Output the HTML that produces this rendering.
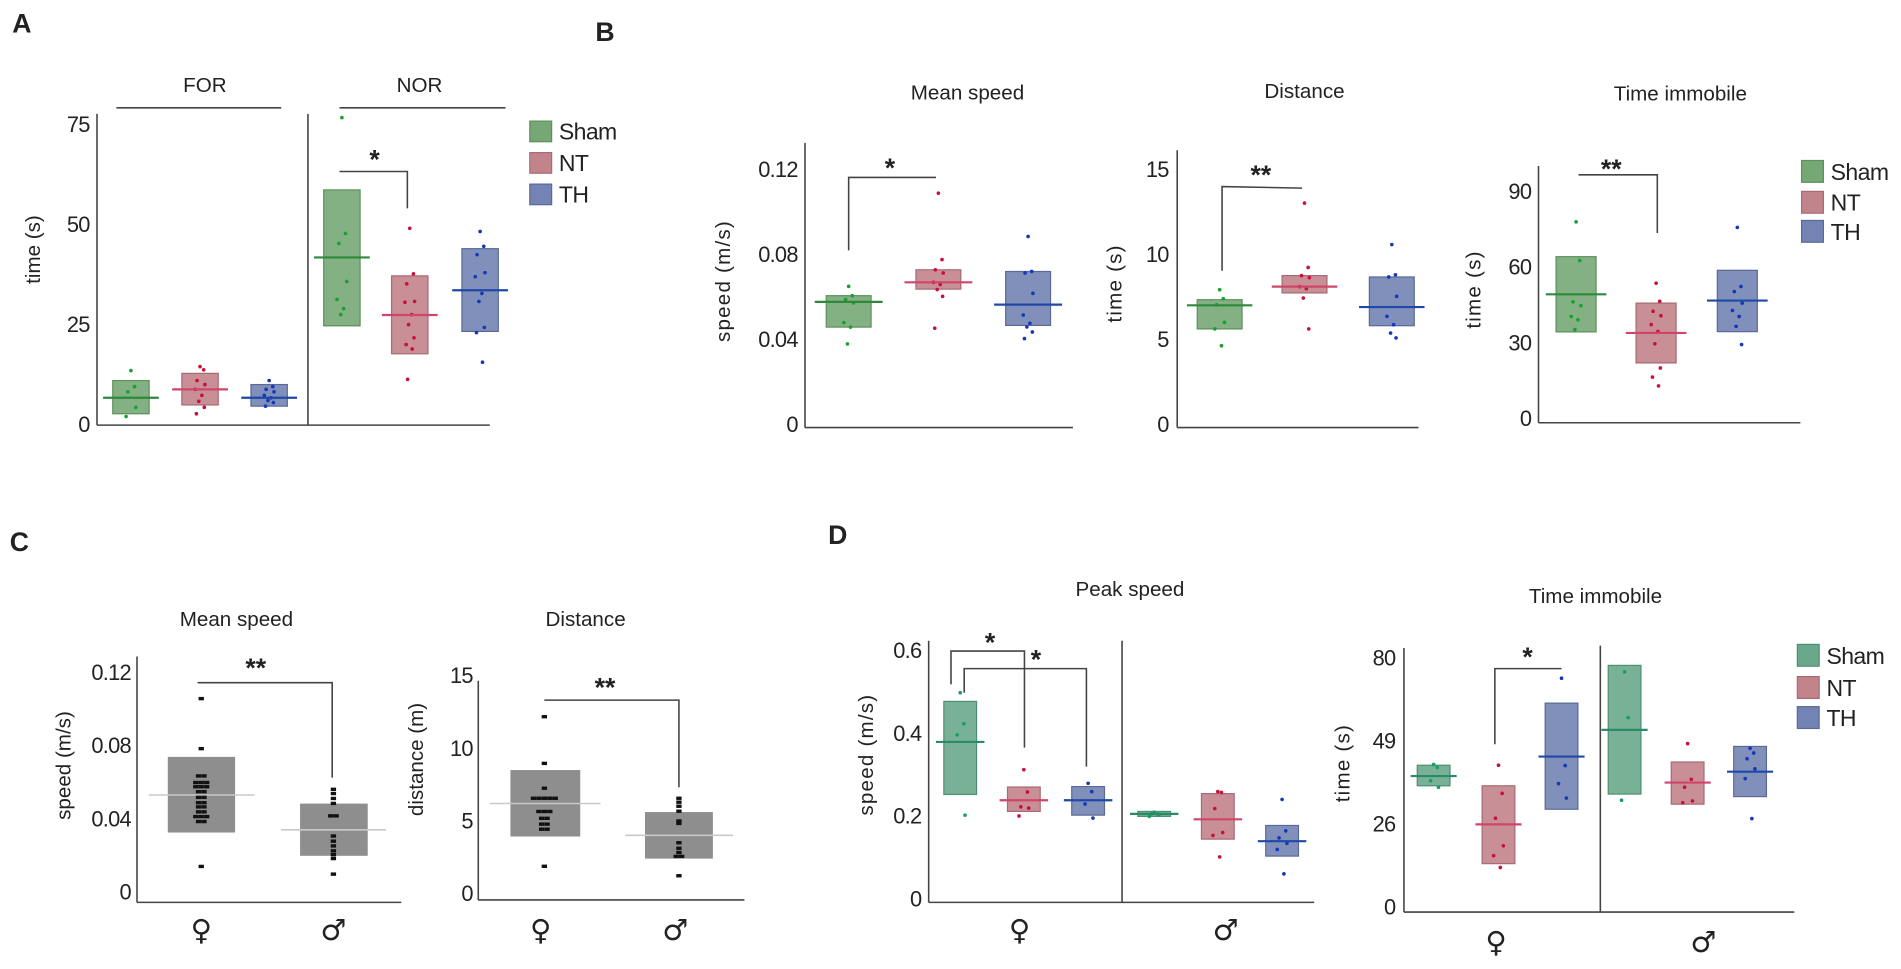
<!DOCTYPE html>
<html><head><meta charset="utf-8"><title>Behavioral measures figure</title>
<style>
html,body{margin:0;padding:0;background:#fff;}
svg{display:block;font-family:"Liberation Sans",Arial,sans-serif;}
</style></head>
<body>
<svg id="fig" width="1901" height="969" viewBox="0 0 1568 800" preserveAspectRatio="none"></svg>
<script>
// ---------- DATA ----------
// Panel A
const A_groups=["Sham","NT","TH"];
const A_FOR_lo=[2.7,4.9,4.6];
const A_FOR_hi=[11,12.8,10];
const A_FOR_mean=[6.7,8.8,6.7];
const A_FOR_pts=[[13.5,9.5,8.2,4.3,2],[14.5,13.7,11,10,8.8,7.3,5.8,4.3,2.7],[11,9.5,8.8,8.2,7.3,6.7,6,5.5,4.6]];
const A_NOR_lo=[24.7,17.7,23.3];
const A_NOR_hi=[58.7,37.2,44];
const A_NOR_mean=[41.8,27.4,33.6];
const A_NOR_pts=[[76.8,47.8,45.3,35.8,31.3,29,27.5],[49.1,37.7,35.2,30.8,30.6,27.5,25,21.7,20,18.9,11.3],[48.3,44.6,42.5,38,37,32.8,30.8,24.3,23,15.6]];
const A_ticks=[0,25,50,75];
// Panel B mean speed
const BS_lo=[0.0459,0.0638,0.0467];
const BS_hi=[0.0607,0.0729,0.0721];
const BS_mean=[0.0578,0.067,0.0565];
const BS_pts=[[0.0651,0.0607,0.0589,0.0573,0.048,0.0459,0.038],[0.109,0.0777,0.0729,0.0714,0.067,0.066,0.0636,0.0604,0.0454],[0.0886,0.0721,0.0714,0.0618,0.0516,0.0477,0.046,0.0436,0.0405]];
const BS_ticks=[0,0.04,0.08,0.12];
// Panel B distance
const BD_lo=[5.63,7.75,5.82];
const BD_hi=[7.35,8.77,8.69];
const BD_mean=[7.02,8.12,6.92];
const BD_pts=[[7.94,7.41,7.05,6.02,5.63,4.64],[13.04,9.25,8.77,8.65,8.12,8.0,7.45,5.63],[10.6,8.82,8.69,7.55,6.37,5.88,5.39,5.1]];
const BD_ticks=[0,5,10,15];
// Panel B time immobile
const BT_lo=[34.4,22.1,34.5];
const BT_hi=[64.2,45.8,58.8];
const BT_mean=[49.3,34,46.8];
const BT_pts=[[78,62.7,46.3,44.8,40.5,39.2,35.3],[53.7,46.5,42.6,40.8,37.3,34.6,29.7,20.1,16.5,13],[75.8,52.4,50.4,45.8,42.9,40.5,36.6,29.4]];
const BT_ticks=[0,30,60,90];
// Panel C
const C_sex=["♀","♂"];
const CS_lo=[0.0327,0.02];
const CS_hi=[0.074,0.0485];
const CS_mean=[0.0532,0.0342];
const CS_pts=[[0.1058,0.0785,0.0636,0.0636,0.06,0.06,0.06,0.0577,0.0577,0.0577,0.055,0.055,0.0519,0.0519,0.049,0.049,0.0467,0.0467,0.044,0.044,0.0414,0.0414,0.0414,0.0387,0.0387,0.0142],[0.0563,0.054,0.0513,0.0486,0.0418,0.0418,0.0308,0.028,0.0254,0.0227,0.0206,0.0185,0.01]];
const CS_ticks=[0,0.04,0.08,0.12];
const CD_lo=[3.95,2.43];
const CD_hi=[8.52,5.63];
const CD_mean=[6.22,4.03];
const CD_pts=[[12.19,8.98,7.27,6.58,6.58,6.58,6.58,6.58,5.67,5.67,5.67,5.2,5.2,4.8,4.8,4.45,4.45,1.9],[6.58,6.31,6.03,5.69,5.02,4.85,3.52,3.14,2.85,2.58,2.58,1.25]];
const CD_ticks=[0,5,10,15];
// Panel D peak speed (female: Sham,NT,TH ; male: Sham,NT,TH)
const DP_lo=[0.253,0.212,0.203,0.2,0.145,0.104];
const DP_hi=[0.478,0.271,0.272,0.212,0.255,0.178];
const DP_mean=[0.38,0.239,0.239,0.206,0.193,0.14];
const DP_pts=[[0.499,0.424,0.397,0.203],[0.313,0.259,0.223,0.22,0.201],[0.28,0.26,0.23,0.196],[0.21,0.206,0.206,0.203,0.2],[0.26,0.258,0.219,0.161,0.154,0.102],[0.241,0.165,0.148,0.135,0.12,0.061]];
const DP_ticks=[0,0.2,0.4,0.6];
// Panel D time immobile
const DT_lo=[36.7,13.7,30.2,34.4,31.6,33.7];
const DT_hi=[42.4,36.7,63.3,77.4,43.3,47.6];
const DT_mean=[39.4,26,44.8,53.3,37.6,40.6];
const DT_pts=[[42.6,41.8,38.1,36.3],[42.4,34.6,27.7,19.3,16.2,12.5],[72.6,42.3,37.3,33.3],[75,57.9,32.7],[48.4,38.5,36.3,32.5,32],[47.1,45.8,44.2,41.4,38.7,27.6]];
const DT_ticks=[0,26,49,80];

// ---------- DRAWING ----------
const NS='http://www.w3.org/2000/svg';
const svg=document.getElementById('fig');
function mk(tag,parent,name){
  const e=document.createElementNS(NS,tag);
  
  
  parent.appendChild(e);
  return e;
}
function set(e,o){for(const k in o)e.setAttribute(k,o[k]);return e;}
function txt(parent,name,x,y,s,size,anchor,extra){
  const t=mk('text',parent,name);
  set(t,{x:x,y:y,'font-size':size,'text-anchor':anchor||'middle',fill:'#222'});
  if(extra)set(t,extra);
  t.textContent=s;return t;
}
function line(parent,name,x1,y1,x2,y2,col,w){
  return set(mk('line',parent,name),{x1:x1,y1:y1,x2:x2,y2:y2,stroke:col||'#444','stroke-width':w||1.3});
}
function linScale(zeroY,pxPerUnit){return v=>zeroY-v*pxPerUnit;}
function pieceScale(vals,y0,step){return v=>{
  for(let i=0;i<vals.length-1;i++){ if(v<=vals[i+1]||i===vals.length-2){
    const f=(v-vals[i])/(vals[i+1]-vals[i]); return y0-(i+f)*step;}}
};}
const PAL={
  fill:['#76a876','#c2848b','#7384b4'],
  stroke:['#5d905d','#a86b73','#5a6a98'],
  mean:['#2c8a3a','#d0456a','#1f48a8'],
  dot:['#18a030','#c8103c','#1438b8']
};
const PALD={
  fill:['#6aa88c','#c2848b','#7384b4'],
  stroke:['#4e9073','#a86b73','#5a6a98'],
  mean:['#2a8a6a','#d0456a','#1f48a8'],
  dot:['#18a060','#c8103c','#1438b8']
};
const JIT=[0,3,-2.5,4,-4,1.5,-1,3.5,-3,2,-1.8];
function group(parent,name,y,cx,bw,mw,lo,hi,mean,pts,ci,pal){
  const g=mk('g',parent,name);
  const r=mk('rect',g,name+'-box');
  set(r,{x:cx-bw/2,y:y(hi),width:bw,height:y(lo)-y(hi),fill:pal.fill[ci],'fill-opacity':0.9,stroke:pal.stroke[ci],'stroke-width':1});
  pts.forEach((v,i)=>{
    const c=mk('circle',g,name+'-point');
    set(c,{cx:cx+JIT[i%JIT.length],cy:y(v),r:1.5,fill:pal.dot[ci]});
  });
  line(g,name+'-mean-line',cx-mw/2,y(mean),cx+mw/2,y(mean),pal.mean[ci],1.8);
}
function yaxis(parent,name,x,top,bottom,y,ticks,labels,endX,size){
  line(parent,name+'-line',x,top,x,bottom,'#444',1.3);
  ticks.forEach((v,i)=>txt(parent,name+'-tick-label',endX,y(v)+6,labels?labels[i]:String(v),size||18,'end',{'letter-spacing':'-0.6'}));
}
function bracket(parent,name,pts,star,sx,sy){
  const p=mk('polyline',parent,name);
  set(p,{points:pts.map(q=>q.join(',')).join(' '),fill:'none',stroke:'#444','stroke-width':1.3});
  txt(parent,name+'-stars',sx,sy,star,22,'middle',{'font-weight':'bold'});
}
function legend(parent,name,x,ys,h,pal){
  const g=mk('g',parent,name);
  ["Sham","NT","TH"].forEach((s,i)=>{
    const r=mk('rect',g,'legend-swatch-'+s.toLowerCase());
    set(r,{x:x,y:ys[i],width:18,height:h,fill:pal.fill[i],stroke:pal.stroke[i]});
    txt(g,'legend-label-'+s.toLowerCase(),x+24,ys[i]+h-2,s,19,'start',{'letter-spacing':'-0.5'});
  });
}
function fmt(v){return v===0?'0':String(v);}

// ----- Panel A -----
(function(){
  const P=mk('g',svg,'panel-a');
  txt(P,'panel-label-a',18,27,'A',22,'middle',{'font-weight':'bold'});
  const y=linScale(350.5,3.3);
  yaxis(P,'a-y-axis',80,94,351,y,A_ticks,A_ticks.map(fmt),74,18);
  line(P,'a-x-axis',80,351,404,351,'#444',1.3);
  line(P,'a-divider',254,94,254,351,'#444',1.3);
  txt(P,'a-y-axis-title',33,206,'time (s)',17,'middle',{transform:'rotate(-90 33 206)'});
  line(P,'for-header-line',96,89,232,89,'#444',1.3);
  txt(P,'for-header',169,76,'FOR',17);
  line(P,'nor-header-line',280,89,417,89,'#444',1.3);
  txt(P,'nor-header',346,76,'NOR',17);
  const forX=[108,165,222], norX=[282,338,396];
  A_groups.forEach((gname,i)=>{
    group(P,'a-for-'+gname.toLowerCase(),y,forX[i],30,46,A_FOR_lo[i],A_FOR_hi[i],A_FOR_mean[i],A_FOR_pts[i],i,PAL);
    group(P,'a-nor-'+gname.toLowerCase(),y,norX[i],30,46,A_NOR_lo[i],A_NOR_hi[i],A_NOR_mean[i],A_NOR_pts[i],i,PAL);
  });
  bracket(P,'a-sig-bracket',[[280,141.6],[336,141.6],[336,172]],'*',309,139);
  legend(P,'a-legend',437,[100,126,152],17,PAL);
})();

// ----- Panel B -----
(function(){
  const P=mk('g',svg,'panel-b');
  txt(P,'panel-label-b',499,34,'B',22,'middle',{'font-weight':'bold'});
  // mean speed
  let y=linScale(350.5,1752.5);
  yaxis(P,'b-speed-y-axis',664,118,353,y,BS_ticks,['0','0.04','0.08','0.12'],658,18);
  line(P,'b-speed-x-axis',664,353,885,353,'#444',1.3);
  txt(P,'b-speed-title',798,82,'Mean speed',17);
  txt(P,'b-speed-y-title',602,232,'speed (m/s)',17,'middle',{transform:'rotate(-90 602 232)','letter-spacing':'1'});
  let xs=[700,774,848];
  A_groups.forEach((g,i)=>group(P,'b-speed-'+g.toLowerCase(),y,xs[i],37,56,BS_lo[i],BS_hi[i],BS_mean[i],BS_pts[i],i,PAL));
  bracket(P,'b-speed-bracket',[[700,206.7],[700,146.5],[772,146.5]],'*',734,146);
  // distance
  y=linScale(350.5,14.02);
  yaxis(P,'b-distance-y-axis',971,124,353,y,BD_ticks,BD_ticks.map(fmt),964,18);
  line(P,'b-distance-x-axis',971,353,1170,353,'#444',1.3);
  txt(P,'b-distance-title',1076,81,'Distance',17);
  txt(P,'b-distance-y-title',925,234,'time (s)',17,'middle',{transform:'rotate(-90 925 234)','letter-spacing':'1'});
  xs=[1006,1076,1148];
  A_groups.forEach((g,i)=>group(P,'b-distance-'+g.toLowerCase(),y,xs[i],37,54,BD_lo[i],BD_hi[i],BD_mean[i],BD_pts[i],i,PAL));
  bracket(P,'b-distance-bracket',[[1008,223.5],[1008,154],[1074,155.3]],'**',1040,152);
  // time immobile
  y=linScale(345.7,2.084);
  yaxis(P,'b-time-y-axis',1269,137,349,y,BT_ticks,BT_ticks.map(fmt),1263,18);
  line(P,'b-time-x-axis',1269,349,1485,349,'#444',1.3);
  txt(P,'b-time-title',1386,83,'Time immobile',17);
  txt(P,'b-time-y-title',1221,239,'time (s)',17,'middle',{transform:'rotate(-90 1221 239)','letter-spacing':'1'});
  xs=[1300,1366,1433];
  A_groups.forEach((g,i)=>group(P,'b-time-'+g.toLowerCase(),y,xs[i],33,50,BT_lo[i],BT_hi[i],BT_mean[i],BT_pts[i],i,PAL));
  bracket(P,'b-time-bracket',[[1302,144.3],[1367,144.3],[1367,192.4]],'**',1329,147);
  legend(P,'b-legend',1486,[132.5,158,182],18,PAL);
})();

// ----- Panel C -----
function cDots(parent,name,y,cx,pts){
  const seen={};
  pts.forEach(v=>{seen[v]=(seen[v]||0)+1;});
  const k={};
  pts.forEach(v=>{
    const n=seen[v]; k[v]=(k[v]||0);
    const off=(k[v]-(n-1)/2)*4.5; k[v]++;
    const r=mk('rect',parent,name+'-point');
    set(r,{x:cx+off-2.2,y:y(v)-1.4,width:4.4,height:2.8,fill:'#111'});
  });
}
(function(){
  const P=mk('g',svg,'panel-c');
  txt(P,'panel-label-c',16,455,'C',22,'middle',{'font-weight':'bold'});
  let y=linScale(736.8,1512.5);
  yaxis(P,'c-speed-y-axis',113,542,745,y,CS_ticks,['0','0.04','0.08','0.12'],108,18);
  line(P,'c-speed-x-axis',113,745,331,745,'#444',1.3);
  txt(P,'c-speed-title',195,517,'Mean speed',17);
  txt(P,'c-speed-y-title',58,632,'speed (m/s)',17,'middle',{transform:'rotate(-90 58 632)'});
  let xs=[166,275], bx=[[138.4,193.9],[247.5,303.3]], mx=[[122.7,210],[231.8,318.4]];
  C_sex.forEach((s,i)=>{
    const g=mk('g',P,'c-speed-group-'+(i?'male':'female'));
    const r=mk('rect',g,'c-speed-box');
    set(r,{x:bx[i][0],y:y(CS_hi[i]),width:bx[i][1]-bx[i][0],height:y(CS_lo[i])-y(CS_hi[i]),fill:'#8e8e8e'});
    line(g,'c-speed-mean-line',mx[i][0],y(CS_mean[i]),mx[i][1],y(CS_mean[i]),'#c9c9c9',1.3);
    cDots(g,'c-speed',y,xs[i],CS_pts[i]);
    txt(P,'c-speed-x-label',xs[i],776,s,24,'middle',{'font-family':'DejaVu Sans, sans-serif'});
  });
  bracket(P,'c-speed-bracket',[[163,563.6],[274,563.6],[274,642]],'**',211,559);
  y=linScale(738,12);
  yaxis(P,'c-distance-y-axis',394.5,562,743,y,CD_ticks,CD_ticks.map(fmt),390,18);
  line(P,'c-distance-x-axis',394.5,743,614,743,'#444',1.3);
  txt(P,'c-distance-title',483,517,'Distance',17);
  txt(P,'c-distance-y-title',349,627,'distance (m)',17,'middle',{transform:'rotate(-90 349 627)'});
  xs=[449,560]; bx=[[421,478.6],[532,588]]; mx=[[404,495.4],[515.6,604.6]];
  C_sex.forEach((s,i)=>{
    const g=mk('g',P,'c-distance-group-'+(i?'male':'female'));
    const r=mk('rect',g,'c-distance-box');
    set(r,{x:bx[i][0],y:y(CD_hi[i]),width:bx[i][1]-bx[i][0],height:y(CD_lo[i])-y(CD_hi[i]),fill:'#8e8e8e'});
    line(g,'c-distance-mean-line',mx[i][0],y(CD_mean[i]),mx[i][1],y(CD_mean[i]),'#c9c9c9',1.3);
    cDots(g,'c-distance',y,xs[i],CD_pts[i]);
    txt(P,'c-distance-x-label',xs[i]-3,776,s,24,'middle',{'font-family':'DejaVu Sans, sans-serif'});
  });
  bracket(P,'c-distance-bracket',[[449,578],[560,578],[560,650]],'**',499,575);
})();

// ----- Panel D -----
(function(){
  const P=mk('g',svg,'panel-d');
  txt(P,'panel-label-d',691,449,'D',22,'middle',{'font-weight':'bold'});
  const ci=[0,1,2,0,1,2];
  const names=['f-sham','f-nt','f-th','m-sham','m-nt','m-th'];
  // peak speed
  let y=linScale(742.3,341.5);
  yaxis(P,'d-peak-y-axis',766,529,745,y,DP_ticks,['0','0.2','0.4','0.6'],760,18);
  line(P,'d-peak-x-axis',766,745,1084,745,'#444',1.3);
  line(P,'d-peak-divider',925.5,529,925.5,745,'#444',1.3);
  txt(P,'d-peak-title',932,492,'Peak speed',17);
  txt(P,'d-peak-y-title',720,623,'speed (m/s)',17,'middle',{transform:'rotate(-90 720 623)','letter-spacing':'1'});
  let xs=[792,844.5,897.5,952,1004.5,1057.5];
  names.forEach((n,i)=>group(P,'d-peak-'+n,y,xs[i],27,40,DP_lo[i],DP_hi[i],DP_mean[i],DP_pts[i],ci[i],PALD));
  bracket(P,'d-peak-bracket-nt',[[784.4,565],[784.4,537.5],[845,537.5],[845,617.2]],'*',816.6,538);
  bracket(P,'d-peak-bracket-th',[[795.3,571.9],[795.3,552],[896.1,552],[896.1,632.9]],'*',854.5,552);
  txt(P,'d-peak-x-label-female',841,776,'♀',24,'middle',{'font-family':'DejaVu Sans, sans-serif'});
  txt(P,'d-peak-x-label-male',1011,776,'♂',24,'middle',{'font-family':'DejaVu Sans, sans-serif'});
  // time immobile
  y=pieceScale(DT_ticks,749.1,68.5);
  yaxis(P,'d-time-y-axis',1158,535,753,y,DT_ticks,DT_ticks.map(fmt),1151,18);
  line(P,'d-time-x-axis',1158,753,1480,753,'#444',1.3);
  line(P,'d-time-divider',1320,533,1320,753,'#444',1.3);
  txt(P,'d-time-title',1316,498,'Time immobile',17);
  txt(P,'d-time-y-title',1113,630,'time (s)',17,'middle',{transform:'rotate(-90 1113 630)','letter-spacing':'1'});
  xs=[1182.5,1236,1288,1340,1392,1443.5];
  names.forEach((n,i)=>group(P,'d-time-'+n,y,xs[i],27,38,DT_lo[i],DT_hi[i],DT_mean[i],DT_pts[i],ci[i],PALD));
  bracket(P,'d-time-bracket',[[1233,614.4],[1233,552],[1288,552]],'*',1260,550);
  txt(P,'d-time-x-label-female',1234,786,'♀',24,'middle',{'font-family':'DejaVu Sans, sans-serif'});
  txt(P,'d-time-x-label-male',1405,786,'♂',24,'middle',{'font-family':'DejaVu Sans, sans-serif'});
  legend(P,'d-legend',1482.5,[532,558.6,583.4],18,PALD);
})();
</script>
</body></html>
